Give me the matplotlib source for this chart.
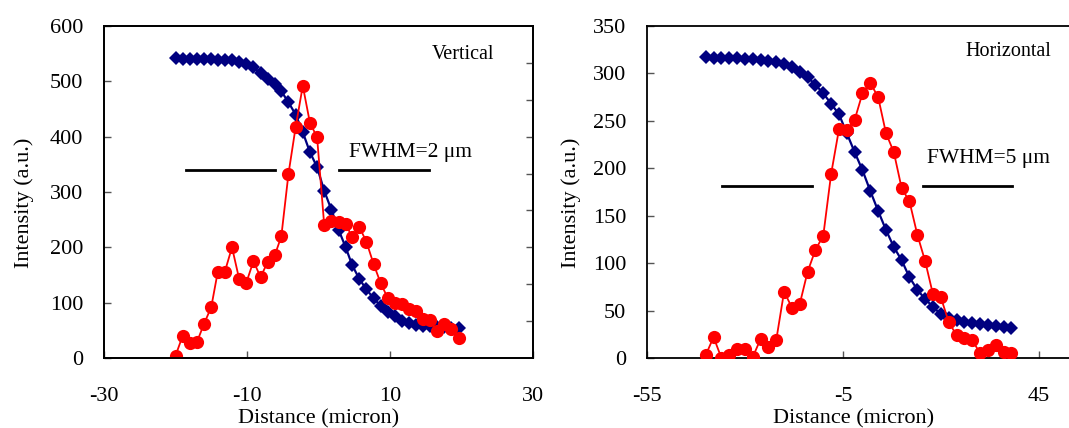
import matplotlib

matplotlib.use("Agg")

import matplotlib.pyplot as plt
from matplotlib.ticker import MultipleLocator

plt.rcParams["font.family"] = ["Liberation Serif", "DejaVu Serif"]
plt.rcParams["axes.unicode_minus"] = False

# Vertical profile (left panel)
V_DISTANCE = [
    -20.0, -19.0, -18.0, -17.0, -16.0, -15.0, -14.1, -13.1, -12.1, -11.1,
    -10.1, -9.1, -8.1, -7.1, -6.1, -5.2, -4.2, -3.2, -2.2, -1.2,
    -0.2, 0.8, 1.8, 2.8, 3.8, 4.7, 5.7, 6.7, 7.7, 8.7,
    9.7, 10.7, 11.7, 12.7, 13.7, 14.6, 15.6, 16.6, 17.6, 18.6, 19.6,
]
V_EDGE = [
    542, 541, 540, 540, 540, 540, 539, 539, 538, 535,
    532, 525, 515, 505, 495, 482, 462, 440, 408, 372,
    345, 302, 268, 232, 200, 168, 143, 124, 108, 94,
    83, 75, 67, 63, 60, 58, 57, 56, 56, 55, 54,
]
V_PROFILE = [
    4, 40, 27, 29, 62, 92, 155, 156, 200, 143,
    136, 175, 146, 174, 186, 220, 333, 417, 492, 425,
    399, 240, 248, 245, 243, 218, 237, 210, 170, 135,
    108, 100, 97, 88, 84, 70, 68, 48, 62, 52, 36,
]
V_FWHM_LEFT = [-18.6, -6.1]
V_FWHM_RIGHT = [2.8, 15.4]
V_FWHM_LEVEL = 340
V_TICKS = [-30, -10, 10, 30]

# Horizontal profile (right panel)
H_DISTANCE = [
    -40, -38, -36, -34, -32, -30, -28, -26, -24, -22,
    -20, -18, -16, -14, -12, -10, -8, -6, -4, -2,
    0, 2, 4, 6, 8, 10, 12, 14, 16, 18,
    20, 22, 24, 26, 28, 30, 32, 34, 36, 38,
]
H_EDGE = [
    317, 316, 316, 316, 316, 315, 315, 314, 313, 312,
    310, 307, 302, 296, 288, 279, 268, 257, 237, 217,
    198, 176, 155, 135, 117, 103, 85, 72, 62, 54,
    46, 42, 40, 38, 37, 36, 35, 34, 33, 32,
]
H_PROFILE = [
    3, 22, 0, 3, 9, 9, 1, 20, 12, 19,
    70, 53, 57, 91, 114, 129, 194, 241, 240, 251,
    279, 290, 275, 237, 217, 179, 165, 130, 102, 67,
    64, 38, 24, 21, 19, 5, 8, 14, 6, 5,
]
H_FWHM_LEFT = [-35.9, -12.9]
H_FWHM_RIGHT = [15.4, 38.1]
H_FWHM_LEVEL = 181
H_TICKS = [-55, -5, 45]

EDGE_COLOR = "#000080"
PROFILE_COLOR = "#ff0000"
FONT_SIZE = 16


def style_axis(axis):
    for spine in axis.spines.values():
        spine.set_linewidth(1.3)
    axis.tick_params(
        direction="in", length=5, width=1.0, color="#555555",
        labelsize=FONT_SIZE, top=False, right=False,
    )
    axis.tick_params(axis="x", pad=21)
    axis.tick_params(axis="y", pad=15)


def draw_panel(axis, distance, edge, profile, fwhm_left, fwhm_right, level):
    axis.plot(
        distance, edge, color=EDGE_COLOR, linewidth=1.6, marker="D",
        markersize=7.5, markeredgewidth=0, zorder=3,
    )
    axis.plot(
        distance, profile, color=PROFILE_COLOR, linewidth=1.3, marker="o",
        markersize=9.5, markeredgewidth=0, zorder=4,
    )
    axis.plot(fwhm_left, [level, level], color="black", linewidth=2.0)
    axis.plot(fwhm_right, [level, level], color="black", linewidth=2.0)


figure = plt.figure(figsize=(10.69, 4.28), dpi=100)

left_axis = figure.add_axes([0.0973, 0.1636, 0.4013, 0.7757])
draw_panel(left_axis, V_DISTANCE, V_EDGE, V_PROFILE,
           V_FWHM_LEFT, V_FWHM_RIGHT, V_FWHM_LEVEL)
left_axis.set_xlim(-30, 30)
left_axis.set_ylim(0, 600)
left_axis.set_xticks(V_TICKS)
left_axis.yaxis.set_major_locator(MultipleLocator(100))
style_axis(left_axis)
left_axis.text(4.2, 372, "FWHM=2 \u03bcm", fontsize=15.5, va="center")
left_axis.text(24.6, 549, "Vertical", fontsize=14.5, ha="right", va="center")
left_axis.set_xlabel("Distance (micron)", fontsize=FONT_SIZE)
left_axis.set_ylabel("Intensity (a.u.)", fontsize=FONT_SIZE)
left_axis.xaxis.set_label_coords(0.5, -0.155)
left_axis.yaxis.set_label_coords(-0.163, 0.467)

# unlabeled secondary scale on the right spine
secondary_axis = left_axis.twinx()
secondary_axis.set_ylim(0, 9)
secondary_axis.set_yticks(range(1, 9))
secondary_axis.tick_params(
    direction="in", length=5, width=1.0, color="#555555", labelright=False
)
for spine in secondary_axis.spines.values():
    spine.set_linewidth(1.3)

right_axis = figure.add_axes([0.6052, 0.1636, 0.4032, 0.7757])
draw_panel(right_axis, H_DISTANCE, H_EDGE, H_PROFILE,
           H_FWHM_LEFT, H_FWHM_RIGHT, H_FWHM_LEVEL)
right_axis.set_xlim(-55, 55)
right_axis.set_ylim(0, 350)
right_axis.set_xticks(H_TICKS)
right_axis.yaxis.set_major_locator(MultipleLocator(50))
style_axis(right_axis)
right_axis.text(16.4, 210, "FWHM=5 \u03bcm", fontsize=15.5, va="center")
right_axis.text(48.3, 323, "Horizontal", fontsize=14.5, ha="right", va="center")
right_axis.set_xlabel("Distance (micron)", fontsize=FONT_SIZE)
right_axis.set_ylabel("Intensity (a.u.)", fontsize=FONT_SIZE)
right_axis.xaxis.set_label_coords(0.48, -0.155)
right_axis.yaxis.set_label_coords(-0.153, 0.467)

figure.savefig("out.png", dpi=100)
